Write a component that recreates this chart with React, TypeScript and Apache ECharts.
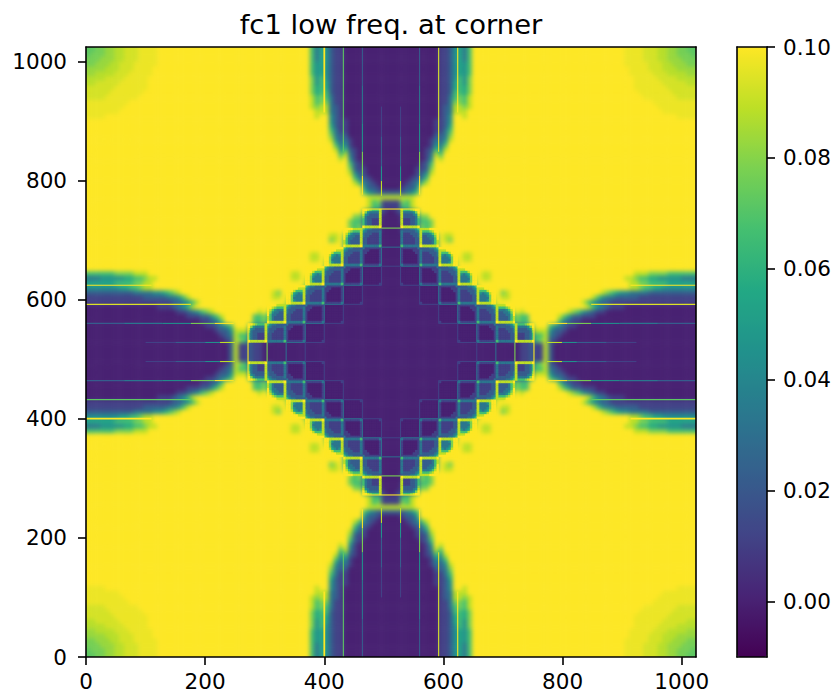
import React, { useEffect, useRef } from "react";
import * as echarts from "echarts";

const TITLE = "fc1 low freq. at corner";
const XY_TICKS = [0, 200, 400, 600, 800, 1000];
const BAR_TICKS = [0, 0.02, 0.04, 0.06, 0.08, 0.1];
const VMIN = -0.01;
const VMAX = 0.1;
const VIRIDIS = ["#440154", "#482475", "#414487", "#355f8d", "#2a788e", "#21918c", "#22a884", "#44bf70", "#7ad151", "#bddf26", "#fde725"];

// One quarter of the picture (x 0-512, y 0-512) read in steps of 8 units.
// 0 = 0.00 ... 9 = 0.10; the letters are in-between values for the pale corner.
const QUARTER_ROWS = [
  "aabbccdd eeexxxx9 99999999 99999999 99999999 999999 9635 4211 0000 0000 00",
  "abbbccdd eeexxxx9 99999999 99999999 99999999 999999 9635 4211 0000 0000 00",
  "bbbcccdd eeexxxx9 99999999 99999999 99999999 999999 9635 4211 0000 0000 00",
  "bbcccdde eexxxxx9 99999999 99999999 99999999 999999 9645 4211 0000 0000 00",
  "ccccddde eexxxx99 99999999 99999999 99999999 999999 9645 4211 0000 0000 00",
  "ccddddee exxxxx99 99999999 99999999 99999999 999999 9645 4211 0000 0000 00",
  "ddddeeee xxxxx999 99999999 99999999 99999999 999999 9746 4211 0000 0000 00",
  "ddeeeeex xxxxx999 99999999 99999999 99999999 999999 9746 5211 0000 0000 00",
  "eeeeeexx xxxxx999 99999999 99999999 99999999 999999 9756 5211 0000 0000 00",
  "eeeeexxx xxxx9999 99999999 99999999 99999999 999999 9756 6211 0000 0000 00",
  "eeeexxxx xxx99999 99999999 99999999 99999999 999999 9867 6311 0000 0000 00",
  "xxxxxxxx x9999999 99999999 99999999 99999999 999999 9867 7311 0000 0000 00",
  "xxxxxxxx 99999999 99999999 99999999 99999999 999999 9878 8321 0000 0000 00",
  "xxxxxxx9 99999999 99999999 99999999 99999999 999999 9988 8321 0000 0000 00",
  "xxxx9999 99999999 99999999 99999999 99999999 999999 9989 9421 0000 0000 00",
  "99999999 99999999 99999999 99999999 99999999 999999 9999 9421 1000 0000 00",
  "99999999 99999999 99999999 99999999 99999999 999999 9999 9521 1000 0000 00",
  "99999999 99999999 99999999 99999999 99999999 999999 9999 9631 1000 0000 00",
  "99999999 99999999 99999999 99999999 99999999 999999 9999 9732 2000 0000 00",
  "99999999 99999999 99999999 99999999 99999999 999999 9999 9842 3100 0000 00",
  "99999999 99999999 99999999 99999999 99999999 999999 9999 9963 4100 0000 00",
  "99999999 99999999 99999999 99999999 99999999 999999 9999 9984 6210 0000 00",
  "99999999 99999999 99999999 99999999 99999999 999999 9999 9996 8310 0000 00",
  "99999999 99999999 99999999 99999999 99999999 999999 9999 9998 9410 0000 00",
  "99999999 99999999 99999999 99999999 99999999 999999 9999 9999 9621 0000 00",
  "99999999 99999999 99999999 99999999 99999999 999999 9999 9999 9721 1000 00",
  "99999999 99999999 99999999 99999999 99999999 999999 9999 9999 9842 1000 00",
  "99999999 99999999 99999999 99999999 99999999 999999 9999 9999 9963 2100 00",
  "99999999 99999999 99999999 99999999 99999999 999999 9999 9999 9986 3210 00",
  "99999999 99999999 99999999 99999999 99999999 999999 9999 9999 9999 4221 00",
  "99999999 99999999 99999999 99999999 99999999 999999 9999 9999 9999 6432 22",
  "99999999 99999999 99999999 99999999 99999999 999999 9999 9999 9999 9888 88",
  "99999999 99999999 99999999 99999999 99 9999 9999 9999 9999 9999 9999 9867 11",
  "99999999 99999999 99999999 99999999 99 9999 9999 9999 9999 9999 9999 9866 11",
  "99999999 99999999 99999999 99999999 99 9999 9999 9999 9999 9999 9999 6322 10",
  "99999999 99999999 99999999 99999999 99 9999 9999 9999 9999 9999 9977 3211 00",
  "99999999 99999999 99999999 99999999 99 9999 9999 9999 9999 9999 9766 2111 00",
  "99999999 99999999 99999999 99999999 99 9999 9999 9999 9999 9999 9767 2110 00",
  "99999999 99999999 99999999 99999999 99 9999 9999 9999 9999 9999 9867 4211 00",
  "99999999 99999999 99999999 99999999 99 9999 9999 9999 9999 9889 6333 2110 00",
  "99999999 99999999 99999999 99999999 99 9999 9999 9999 9999 9789 5322 2100 00",
  "99999999 99999999 99999999 99999999 99 9999 9999 9999 9999 9999 5322 2100 00",
  "99999999 99999999 99999999 99999999 99 9999 9999 9999 9999 9999 6322 1100 00",
  "99999999 99999999 99999999 99999999 99 9999 9999 9999 9889 9756 3211 1000 00",
  "99999999 99999999 99999999 99999999 99 9999 9999 9999 9889 8433 2111 1000 00",
  "99999999 99999999 99999999 99999999 99 9999 9999 9999 9999 7433 2110 0000 00",
  "99999999 99999999 99999999 99999999 99 9999 9999 9999 9999 7333 1100 0000 00",
  "66666677 77888999 99999999 99999999 99 9999 9999 9889 9767 3222 1000 0000 00",
  "33344444 55667889 99999999 99999999 99 9999 9999 9889 8434 2111 0000 0000 00",
  "55555566 66778899 99999999 99999999 99 9999 9999 9999 7433 2111 0000 0000 00",
  "44444445 56678899 99999999 99999999 99 9999 9999 9998 6333 1100 0000 0000 00",
  "22222222 22333344 56789999 99999999 99 9999 9879 9656 3222 1000 0000 0000 00",
  "11111111 11112222 23346899 99999999 99 9999 9889 8434 2211 0000 0000 0000 00",
  "11111111 11111111 11223468 99999999 99 9999 9999 7433 2111 0000 0000 0000 00",
  "00000000 00000001 11234689 99999999 99 9999 9988 7322 1100 0000 0000 0000 00",
  "00000000 00000000 00011234 67899999 99 9989 7434 3211 1000 0000 0000 0000 00",
  "00000000 00000000 00000111 22468999 99 9667 5223 2110 0000 0000 0000 0000 00",
  "00000000 00000000 00000000 11236999 99 9667 5222 2100 0000 0000 0000 0000 00",
  "00000000 00000000 00000000 01123469 99 6322 3211 1000 0000 0000 0000 0000 00",
  "00000000 00000000 00000000 00012248 88 3211 2100 0000 0000 0000 0000 0000 00",
  "00000000 00000000 00000000 00001238 66 2111 1000 0000 0000 0000 0000 0000 00",
  "00000000 00000000 00000000 00000128 76 2110 1000 0000 0000 0000 0000 0000 00",
  "00000000 00000000 00000000 00000028 11 2110 0000 0000 0000 0000 0000 0000 00",
  "00000000 00000000 00000000 00000028 11 2110 0000 0000 0000 0000 0000 0000 00",
];

// The rounded tiles of the staircase, each read at a step of 4 units
// (first row = lowest y, first column = lowest x).
const TILE_TEAL = ["99999999", "99999888", "99986668", "99854348", "99743338", "99733338", "99743338", "99888889"];
const TILE_TEAL_BLUE = ["99998888", "99876668", "98643338", "97433228", "96332228", "86322228", "86322228", "98888889"];
const TILE_BLUE_TIP = ["99876668", "97433338", "84322228", "73222228", "63221118", "63221118", "63221118", "98888889"];
const TILE_BLUE = ["64332222", "43222223", "32221113", "32211113", "22111113", "22111113", "22111113", "33333336"];
const TILE_DARK = ["31111111", "11100001", "11000001", "10000001", "10000001", "10000001", "10000001", "11111113"];
const TILE_INNER = ["00000000", "00000000", "00000000", "00000000", "00000000", "00000000", "00000000", "00000001"];
const TILES: Record<string, string[]> = { A: TILE_TEAL, G: TILE_TEAL_BLUE, H: TILE_BLUE_TIP, B: TILE_BLUE, C: TILE_DARK, D: TILE_INNER };
// Rows from y 464-496 downwards, columns from x 464-496 leftwards; each tile is 32 units wide.
const TILE_MAP = [
  "...DCBH",
  "..DCBG.",
  ".DCBA..",
  "DCBA...",
  "CBA....",
  "BG.....",
  "H......",
];

// Thin ridges of the quarter: [line position, from, to, level]
const RIDGES = [
  [400, 0, 110, 9],
  [464, 0, 64, 2], [464, 64, 128, 3], [464, 128, 176, 4], [464, 176, 216, 7], [464, 216, 248, 9],
  [496, 100, 150, 1], [496, 150, 200, 2], [496, 200, 225, 4], [496, 225, 250, 8],
  [272, 464, 512, 9],
  [304, 496, 512, 7],
  [336, 496, 512, 2.5],
  [368, 464, 496, 2.5], [368, 496, 512, 1],
  [400, 432, 464, 2.5], [400, 464, 496, 1],
  [432, 400, 432, 2.5], [432, 432, 464, 1],
  [464, 368, 400, 2.5], [464, 400, 432, 1],
  [496, 336, 368, 2.5], [496, 368, 400, 1],
];
// The two long bright lines, which differ between the low and the high side: [position, level]
const LONG_LINES = [[432, 6.5], [592, 8.5]];
const LONG_LINE_LENGTH = 176;

const levelValue = (level: number) => (level / 9) * 0.1;
const LETTER_VALUES: Record<string, number> = { a: 0.072, b: 0.077, c: 0.083, d: 0.088, e: 0.093, x: 0.097 };
const charValue = (ch: string) => (ch in LETTER_VALUES ? LETTER_VALUES[ch] : levelValue(Number(ch)));

const parsedRows = QUARTER_ROWS.map((row) => row.replace(/ /g, "").padEnd(64, "9"));
// The heat layer is softened, so it runs a few cells past the frame and is clipped there.
const PAD_CELLS = 4;
const CELL_PX = 610 / 128;
const PAD_PX = PAD_CELLS * CELL_PX;
const HEAT_PX = 610 + 2 * PAD_PX;
const COUNT = 128 + 2 * PAD_CELLS;
const CATEGORIES = Array.from({ length: COUNT }, (_, i) => String((i - PAD_CELLS) * 8));

const heatData: number[][] = [];
for (let r = 0; r < COUNT; r++) {
  for (let c = 0; c < COUNT; c++) {
    const ry = Math.min(127, Math.max(0, r - PAD_CELLS));
    const cx = Math.min(127, Math.max(0, c - PAD_CELLS));
    const rr = ry < 64 ? ry : 127 - ry;
    const cc = cx < 64 ? cx : 127 - cx;
    heatData.push([c, r, charValue(parsedRows[rr][cc])]);
  }
}

const tileData: number[][] = [];
TILE_MAP.forEach((rowText, k) => {
  rowText.split("").forEach((letter, j) => {
    const sprite = TILES[letter];
    if (!sprite) return;
    const x0 = 464 - 32 * j;
    const y0 = 464 - 32 * k;
    sprite.forEach((spriteRow, sr) => {
      spriteRow.split("").forEach((ch, sc) => {
        const x = x0 + sc * 4;
        const y = y0 + sr * 4;
        const v = charValue(ch);
        tileData.push([x, y, v], [1020 - x, y, v], [x, 1020 - y, v], [1020 - x, 1020 - y, v]);
      });
    });
  });
});

const ridgeData: number[][] = [];
for (const [p, a, b, level] of RIDGES) {
  const v = levelValue(level);
  for (const [px, qa, qb] of [[p, a, b], [1024 - p, a, b], [p, 1024 - a, 1024 - b], [1024 - p, 1024 - a, 1024 - b]]) {
    ridgeData.push([px, qa, px, qb, v]);
    ridgeData.push([qa, px, qb, px, v]);
  }
}
for (const [p, level] of LONG_LINES) {
  const v = levelValue(level);
  for (const [qa, qb] of [[0, LONG_LINE_LENGTH], [1024 - LONG_LINE_LENGTH, 1024]]) {
    ridgeData.push([p, qa, p, qb, v]);
    ridgeData.push([qa, p, qb, p, v]);
  }
}

function hexToRgb(h: string) {
  return [parseInt(h.slice(1, 3), 16), parseInt(h.slice(3, 5), 16), parseInt(h.slice(5, 7), 16)];
}
function viridis(v: number) {
  const t = Math.min(1, Math.max(0, (v - VMIN) / (VMAX - VMIN))) * (VIRIDIS.length - 1);
  const i = Math.min(VIRIDIS.length - 2, Math.floor(t));
  const a = hexToRgb(VIRIDIS[i]);
  const b = hexToRgb(VIRIDIS[i + 1]);
  const f = t - i;
  return `rgb(${a.map((x, k) => Math.round(x + (b[k] - x) * f)).join(",")})`;
}

const FONT = "DejaVu Sans";
const TICK_FONT = 21.5;
const line = { show: true, onZero: false, lineStyle: { color: "#000", width: 1.6 } };
const noTick = { show: false };
const noLabel = { show: false };

function tickAxis(values: number[], margin: number, fmt?: (v: number) => string) {
  return {
    axisLine: line,
    axisTick: { show: true, length: 8, lineStyle: { color: "#000", width: 1.6 }, customValues: values },
    axisLabel: {
      show: true,
      color: "#000",
      fontFamily: FONT,
      fontSize: TICK_FONT,
      margin,
      customValues: values,
      formatter: fmt ? (v: number) => fmt(v) : (v: number) => String(v),
    },
    splitLine: { show: false },
    z: 10,
  };
}

export default function App() {
  const heatRef = useRef<HTMLDivElement>(null);
  const tileRef = useRef<HTMLDivElement>(null);
  const ref = useRef<HTMLDivElement>(null);
  useEffect(() => {
    const heat = echarts.init(heatRef.current!, null, { renderer: "svg", width: HEAT_PX, height: HEAT_PX });
    heat.setOption({
      animation: false,
      grid: { left: 0, top: 0, right: 0, bottom: 0 },
      xAxis: { type: "category", data: CATEGORIES, show: false },
      yAxis: { type: "category", data: CATEGORIES, show: false },
      visualMap: { type: "continuous", min: VMIN, max: VMAX, dimension: 2, show: false, inRange: { color: VIRIDIS } },
      series: [
        {
          type: "heatmap",
          data: heatData,
          progressive: 0,
          silent: true,
          emphasis: { disabled: true },
          itemStyle: { borderWidth: 0 },
        },
      ],
    });
    const tiles = echarts.init(tileRef.current!, null, { renderer: "svg", width: 610, height: 610 });
    tiles.setOption({
      animation: false,
      grid: { left: 0, top: 0, right: 0, bottom: 0 },
      xAxis: { type: "value", min: 0, max: 1024, show: false },
      yAxis: { type: "value", min: 0, max: 1024, show: false },
      series: [
        {
          type: "custom",
          data: tileData,
          silent: true,
          progressive: 0,
          renderItem: (_: any, api: any) => {
            const a = api.coord([api.value(0), api.value(1) + 4]);
            const b = api.coord([api.value(0) + 4, api.value(1)]);
            return {
              type: "rect",
              shape: { x: a[0] - 0.2, y: a[1] - 0.2, width: b[0] - a[0] + 0.4, height: b[1] - a[1] + 0.4 },
              style: { fill: viridis(api.value(2)) },
            };
          },
        },
      ],
    });
    const chart = echarts.init(ref.current!, null, { renderer: "svg" });
    chart.setOption({
      animation: false,
      title: {
        text: TITLE,
        left: 386,
        top: 6,
        textAlign: "center",
        textStyle: { fontFamily: FONT, fontWeight: "normal", fontSize: 27.4, color: "#000" },
      },
      grid: [
        { left: 86, top: 47, width: 610, height: 610 },
        { left: 737, top: 47, width: 30, height: 610 },
      ],
      xAxis: [
        { type: "value", gridIndex: 0, position: "bottom", min: 0, max: 1024, ...tickAxis(XY_TICKS, 13) },
        { type: "value", gridIndex: 0, position: "top", min: 0, max: 1024, axisLine: line, axisTick: noTick, axisLabel: noLabel, splitLine: { show: false }, z: 10 },
        { type: "value", gridIndex: 1, position: "bottom", min: 0, max: 1, axisLine: line, axisTick: noTick, axisLabel: noLabel, splitLine: { show: false }, z: 10 },
        { type: "value", gridIndex: 1, position: "top", min: 0, max: 1, axisLine: line, axisTick: noTick, axisLabel: noLabel, splitLine: { show: false }, z: 10 },
      ],
      yAxis: [
        { type: "value", gridIndex: 0, position: "left", min: 0, max: 1024, ...tickAxis(XY_TICKS, 19) },
        { type: "value", gridIndex: 0, position: "right", min: 0, max: 1024, axisLine: line, axisTick: noTick, axisLabel: noLabel, splitLine: { show: false }, z: 10 },
        { type: "value", gridIndex: 1, position: "right", min: VMIN, max: VMAX, ...tickAxis(BAR_TICKS, 16, (v) => v.toFixed(2)) },
        { type: "value", gridIndex: 1, position: "left", min: VMIN, max: VMAX, axisLine: line, axisTick: noTick, axisLabel: noLabel, splitLine: { show: false }, z: 10 },
      ],
      visualMap: {
        type: "continuous",
        seriesIndex: [],
        dimension: 2,
        min: VMIN,
        max: VMAX,
        show: true,
        calculable: false,
        hoverLink: false,
        left: 737,
        top: 47,
        padding: 0,
        itemWidth: 30,
        itemHeight: 610,
        text: null,
        inRange: { color: VIRIDIS },
      },
      series: [
        {
          type: "custom",
          xAxisIndex: 0,
          yAxisIndex: 0,
          data: ridgeData,
          silent: true,
          z: 5,
          progressive: 0,
          encode: { x: [0, 2], y: [1, 3] },
          renderItem: (_: any, api: any) => {
            const a = api.coord([api.value(0), api.value(1)]);
            const b = api.coord([api.value(2), api.value(3)]);
            const v = api.value(4);
            const wide = api.value(0) === 400 && api.value(2) === 400 && v > 0.09;
            const wide2 = api.value(1) === 400 && api.value(3) === 400 && v > 0.09;
            return {
              type: "line",
              shape: { x1: a[0], y1: a[1], x2: b[0], y2: b[1] },
              style: { stroke: viridis(v), lineWidth: wide || wide2 ? 1.8 : 1.1 },
            };
          },
        },
      ],
    });
    return () => {
      chart.dispose();
      tiles.dispose();
      heat.dispose();
    };
  }, []);
  return (
    <div style={{ position: "absolute", left: 0, top: 0, width: 836, height: 696, background: "#fff" }}>
      <div style={{ position: "absolute", left: 86, top: 47, width: 610, height: 610, overflow: "hidden" }}>
        <div
          ref={heatRef}
          style={{ position: "absolute", left: -PAD_PX, top: -PAD_PX, width: HEAT_PX, height: HEAT_PX, filter: "blur(2.2px)" }}
        />
        <div ref={tileRef} style={{ position: "absolute", left: 0, top: 0, width: 610, height: 610, filter: "blur(0.7px)" }} />
      </div>
      <div ref={ref} style={{ position: "absolute", left: 0, top: 0, width: 836, height: 696 }} />
    </div>
  );
}
